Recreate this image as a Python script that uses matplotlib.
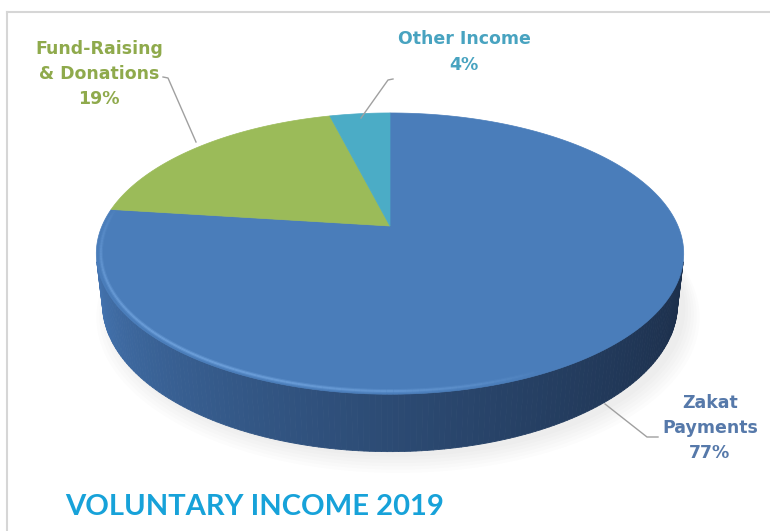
import numpy as np
import matplotlib
matplotlib.use("Agg")
import matplotlib.pyplot as plt
from matplotlib.patches import Polygon
from matplotlib.collections import PolyCollection, LineCollection
from matplotlib.colors import to_rgb

# data
labels = ["Zakat\nPayments", "Fund-Raising\n& Donations", "Other Income"]
shares = [77, 19, 4]
top_colors = ["#4A7DBA", "#9BBB59", "#4BACC6"]
text_colors = ["#5679AA", "#8FAA4C", "#48A3C0"]
title = "VOLUNTARY INCOME 2019"

# 3d look of the pie
elev = np.radians(28)
dist = 4.5
depth = 0.2
cx, cy, scale = 390, 226, 288


def project(t, z=0.0, r=1.0):
    # t: angle clockwise from 12 o'clock
    X = r * np.sin(t)
    Y = r * np.cos(t)
    u = Y * np.sin(elev) + z * np.cos(elev)
    d = dist + Y * np.cos(elev) - z * np.sin(elev)
    f = dist / d
    return cx + scale * X * f, cy - scale * u * f


fig = plt.figure(figsize=(7.7, 5.31), dpi=100)
ax = fig.add_axes([0, 0, 1, 1])
ax.set_xlim(0, 770)
ax.set_ylim(531, 0)
ax.axis("off")

# frame lines
ax.plot([7, 770], [12, 12], color="#D6D6D6", lw=1.5)
ax.plot([7, 7], [12, 531], color="#D6D6D6", lw=1.5)

# soft shadow under the pie
for k in range(6):
    tt = np.linspace(0, 2 * np.pi, 200)
    sx, sy = project(tt, -depth - 0.01)
    grow = 1 + 0.01 * k
    ax.fill((sx - cx) * grow + cx + 8, (sy - cy) * grow + cy + 2 + k,
            color="#A0A0A0", alpha=0.03, lw=0, zorder=1)

# side of the pie (only the front part shows)
lim = np.arccos(-1 / (dist * np.cos(elev)))
tside = np.linspace(lim, 2 * np.pi - lim, 160)
light = np.array(to_rgb("#4474B0"))
dark = np.array(to_rgb("#1C2F4B"))
polys, cols = [], []
for a, b in zip(tside[:-1], tside[1:]):
    x1, y1 = project(a, 0)
    x2, y2 = project(b, 0)
    x3, y3 = project(b, -depth)
    x4, y4 = project(a, -depth)
    polys.append([(x1, y1), (x2, y2), (x3, y3), (x4, y4)])
    w = (a - lim) / (2 * np.pi - 2 * lim)
    w = np.clip(w, 0, 1) ** 1.3
    cols.append(dark * (1 - w) + light * w)
ax.add_collection(PolyCollection(polys, facecolors=cols, edgecolors=cols,
                                 linewidths=0.6, zorder=2))

# top faces of the slices
start = 0.0
for share, col in zip(shares, top_colors):
    a0 = start / 100 * 2 * np.pi
    a1 = (start + share) / 100 * 2 * np.pi
    tt = np.linspace(a0, a1, 200)
    sx, sy = project(tt, 0)
    pts = [(cx, cy)] + list(zip(sx, sy))
    ax.add_patch(Polygon(pts, closed=True, facecolor=col, edgecolor=col,
                         lw=0.5, zorder=3))
    start += share

# light bevel just inside the front rim
tb = np.linspace(np.pi * 0.85, np.pi * 1.55, 120)
for r, lw, al in [(0.985, 3.0, 0.25), (0.985, 1.4, 0.45)]:
    bx, by = project(tb, 0, r)
    segs = [[(bx[i], by[i]), (bx[i + 1], by[i + 1])] for i in range(len(bx) - 1)]
    alphas = np.sin(np.linspace(0, np.pi, len(segs))) ** 0.8
    seg_cols = [(0.50, 0.70, 0.93, a * al) for a in alphas]
    ax.add_collection(LineCollection(segs, colors=seg_cols, linewidths=lw, zorder=4))

# labels with leader lines
lab_font = ["DejaVu Sans"]
ax.text(710, 428, labels[0] + "\n%d%%" % shares[0], color=text_colors[0],
        ha="center", va="center", fontsize=12.5, fontweight="bold",
        family=lab_font, linespacing=1.5)
ax.plot([658, 647, 605], [437, 437, 404], color="#A0A0A0", lw=1, zorder=5)

ax.text(99, 74, labels[1] + "\n%d%%" % shares[1], color=text_colors[1],
        ha="center", va="center", fontsize=12.5, fontweight="bold",
        family=lab_font, linespacing=1.5)
ax.plot([163, 168, 196], [77, 78, 142], color="#A0A0A0", lw=1, zorder=5)

ax.text(464, 52, labels[2] + "\n%d%%" % shares[2], color=text_colors[2],
        ha="center", va="center", fontsize=12.5, fontweight="bold",
        family=lab_font, linespacing=1.5)
ax.plot([393, 388, 361], [79, 80, 118], color="#A0A0A0", lw=1, zorder=5)

ax.text(255, 515, title, color="#17A2D9", ha="center", va="baseline",
        fontsize=21, fontweight="bold", family=["Lato", "DejaVu Sans"])

fig.savefig("out.png", dpi=100)
